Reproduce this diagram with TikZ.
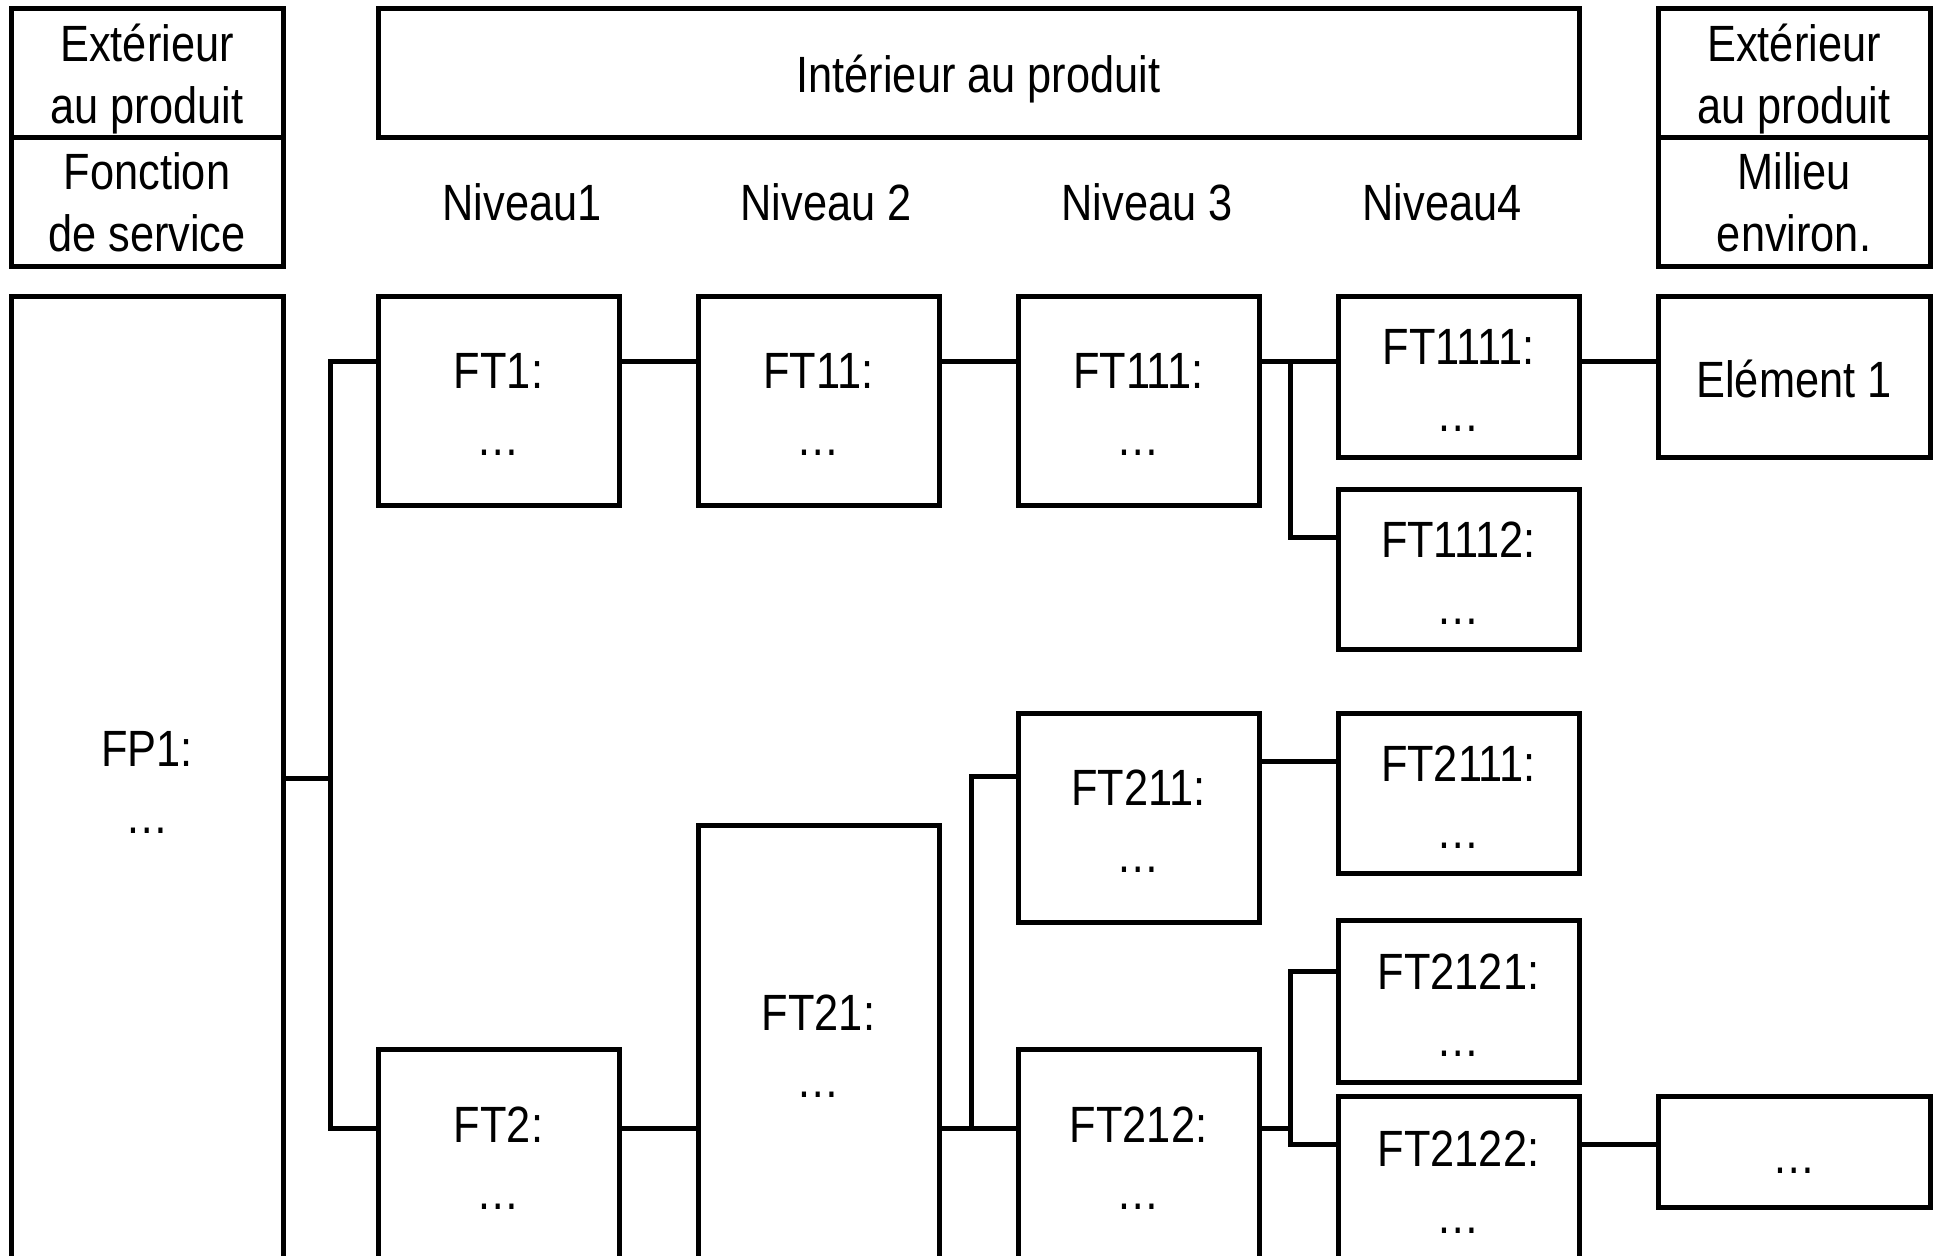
\documentclass[tikz,border=0pt]{standalone}
\usepackage{fontspec}
\setmainfont{Liberation Sans}[FakeStretch=0.85]
\begin{document}
\begin{tikzpicture}[x=1pt,y=-1pt,
  box/.style={draw, line width=5pt, inner sep=0pt},
  txt/.style={inner sep=0pt, align=center, font=\fontsize{51}{62}\selectfont},
  conn/.style={line width=5pt, line join=miter}]
\useasboundingbox (0,0) rectangle (1937,1255);
% headers
\node[box, minimum width=272, minimum height=128] (lh1) at (147,73) {};
\node[txt, yshift=-6] (lh1t) at (lh1.center) {Extérieur\\au produit};
\node[box, minimum width=272, minimum height=129] (lh2) at (147,201.5) {};
\node[txt, yshift=-1] (lh2t) at (lh2.center) {Fonction\\de service};
\node[box, minimum width=1201, minimum height=128] (ih) at (978.5,73) {};
\node[txt, yshift=-6] (iht) at (ih.center) {Intérieur au produit};
\node[box, minimum width=272, minimum height=128] (rh1) at (1794,73) {};
\node[txt, yshift=-6] (rh1t) at (rh1.center) {Extérieur\\au produit};
\node[box, minimum width=272, minimum height=129] (rh2) at (1794,201.5) {};
\node[txt, yshift=-1] (rh2t) at (rh2.center) {Milieu\\environ.};
\node[txt] (n1) at (522,202) {Niveau1};
\node[txt] (n2) at (826,202) {Niveau 2};
\node[txt] (n3) at (1147,202) {Niveau 3};
\node[txt] (n4) at (1442,202) {Niveau4};
% boxes
\node[box, minimum width=272, minimum height=964] (fp1) at (147,778) {};
\node[txt, yshift=-4] (fp1t) at (fp1.center) {FP1:\\[5pt]…};
\node[box, minimum width=241, minimum height=209] (ft1) at (498.5,400.5) {};
\node[txt, yshift=-4] (ft1t) at (ft1.center) {FT1:\\[5pt]…};
\node[box, minimum width=241, minimum height=209] (ft11) at (818.5,400.5) {};
\node[txt, yshift=-4] (ft11t) at (ft11.center) {FT11:\\[5pt]…};
\node[box, minimum width=241, minimum height=209] (ft111) at (1138.5,400.5) {};
\node[txt, yshift=-4] (ft111t) at (ft111.center) {FT111:\\[5pt]…};
\node[box, minimum width=241, minimum height=161] (ft1111) at (1458.5,376.5) {};
\node[txt, yshift=-4] (ft1111t) at (ft1111.center) {FT1111:\\[5pt]…};
\node[box, minimum width=241, minimum height=160] (ft1112) at (1458.5,569) {};
\node[txt, yshift=-4] (ft1112t) at (ft1112.center) {FT1112:\\[5pt]…};
\node[box, minimum width=272, minimum height=161] (el1) at (1794,376.5) {};
\node[txt, yshift=-9] (el1t) at (el1.center) {\strut Elément 1};
\node[box, minimum width=241, minimum height=209] (ft211) at (1138.5,817.5) {};
\node[txt, yshift=-4] (ft211t) at (ft211.center) {FT211:\\[5pt]…};
\node[box, minimum width=241, minimum height=160] (ft2111) at (1458.5,793) {};
\node[txt, yshift=-4] (ft2111t) at (ft2111.center) {FT2111:\\[5pt]…};
\node[box, minimum width=241, minimum height=435] (ft21) at (818.5,1042.5) {};
\node[txt, yshift=-4] (ft21t) at (ft21.center) {FT21:\\[5pt]…};
\node[box, minimum width=241, minimum height=210] (ft2) at (498.5,1154) {};
\node[txt, yshift=-4] (ft2t) at (ft2.center) {FT2:\\[5pt]…};
\node[box, minimum width=241, minimum height=210] (ft212) at (1138.5,1154) {};
\node[txt, yshift=-4] (ft212t) at (ft212.center) {FT212:\\[5pt]…};
\node[box, minimum width=241, minimum height=162] (ft2121) at (1458.5,1001) {};
\node[txt, yshift=-4] (ft2121t) at (ft2121.center) {FT2121:\\[5pt]…};
\node[box, minimum width=241, minimum height=165] (ft2122) at (1458.5,1178.5) {};
\node[txt, yshift=-4] (ft2122t) at (ft2122.center) {FT2122:\\[5pt]…};
\node[box, minimum width=272, minimum height=111] (dd) at (1794,1151.5) {};
\node[txt, yshift=-10] (ddt) at (dd.center) {\strut …};
% connector levels
\coordinate (ya) at (0,778);
\coordinate (y1) at (0,361);
\coordinate (y2) at (0,1128);
\coordinate (y3) at (0,537);
\coordinate (y4) at (0,776);
\coordinate (y5) at (0,761);
\coordinate (y6) at (0,971);
\coordinate (y7) at (0,1144);
\coordinate (xa) at (330,0);
\coordinate (xb) at (1290,0);
\coordinate (xc) at (971,0);
% connectors
\draw[conn] (fp1.east |- ya) -- (xa |- ya);
\draw[conn] (ft1.west |- y1) -- (xa |- y1) -- (xa |- y2) -- (ft2.west |- y2);
\draw[conn] (ft1.east |- y1) -- (ft11.west |- y1);
\draw[conn] (ft11.east |- y1) -- (ft111.west |- y1);
\draw[conn] (ft111.east |- y1) -- (ft1111.west |- y1);
\draw[conn] (ft1112.west |- y3) -- (xb |- y3) -- (xb |- y1);
\draw[conn] (ft1111.east |- y1) -- (el1.west |- y1);
\draw[conn] (ft2.east |- y2) -- (ft21.west |- y2);
\draw[conn] (ft21.east |- y2) -- (ft212.west |- y2);
\draw[conn] (ft211.west |- y4) -- (xc |- y4) -- (xc |- y2);
\draw[conn] (ft211.east |- y5) -- (ft2111.west |- y5);
\draw[conn] (ft212.east |- y2) -- (xb |- y2);
\draw[conn] (ft2121.west |- y6) -- (xb |- y6) -- (xb |- y7) -- (ft2122.west |- y7);
\draw[conn] (ft2122.east |- y7) -- (dd.west |- y7);
\end{tikzpicture}
\end{document}
